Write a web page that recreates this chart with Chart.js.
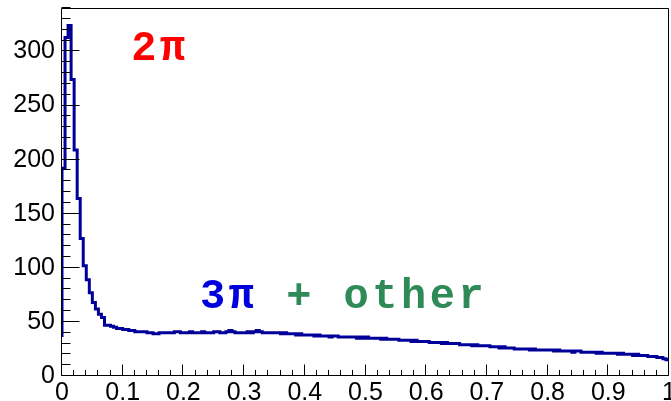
<!DOCTYPE html>
<html><head><meta charset="utf-8">
<script src="https://cdn.jsdelivr.net/npm/chart.js@4.4.0/dist/chart.umd.min.js"></script>
<style>html,body{margin:0;padding:0;background:#fff;overflow:hidden}canvas{display:block}</style>
</head><body>
<canvas id="c" width="671" height="401"></canvas>
<script>
// ---- data ----
const xMin = 0, xMax = 1, binWidth = 0.005;
const yMax = 340.2;
const startLevel = 36;
const counts = [
  192,313,324,274,209,164,127,102,89,77,68,62,57,54,47,
  47,46,45,44,44,
  43,43,42,42,41,41,41,41,40,40,
  39,39,40,40,40,40,40,41,41,40,
  40,40,41,40,40,40,41,40,40,40,
  41,41,40,40,41,42,41,40,40,40,
  40,41,40,41,42,41,40,40,40,40,
  40,40,39,40,39,39,39,38,39,38,
  38,38,38,37,38,37,37,37,36,37,
  37,36,36,36,36,36,36,35,36,35,
  36,35,35,35,35,34,35,34,34,34,
  34,33,33,33,33,32,33,32,32,32,
  32,31,31,31,31,30,31,30,30,30,
  30,29,29,29,29,28,29,28,28,28,
  28,27,27,27,26,27,26,26,26,25,
  25,25,25,25,24,25,24,24,24,24,
  24,24,23,24,23,23,23,23,22,23,
  23,22,22,22,22,22,21,22,21,21,
  21,21,21,20,21,20,20,20,19,20,
  19,19,19,18,18,18,17,17,16,15
];
const xTickLabels = ['0','0.1','0.2','0.3','0.4','0.5','0.6','0.7','0.8','0.9','1'];
const yTickLabels = ['0','50','100','150','200','250','300'];
const label2pi = '2π';
const label3pi = '3π';
const labelOther = ' + other';

// ---- build ----
const points = [{x: xMin, y: startLevel}];
counts.forEach((c, i) => points.push({x: +(i * binWidth).toFixed(4), y: c}));
points.push({x: xMax, y: counts[counts.length - 1]});

const framePlugin = {
  id: 'frame',
  afterDraw(chart) {
    const {ctx, chartArea: a, scales: {x, y}} = chart;
    ctx.save();
    ctx.strokeStyle = '#000';
    ctx.lineWidth = 1;
    ctx.beginPath();
    const L = Math.round(a.left) - 0.5, R = Math.round(a.right) - 0.5;
    const T = Math.round(a.top) + 0.5, B = Math.round(a.bottom) - 0.5;
    ctx.rect(L, T, R - L, B - T);
    for (let k = 0; k <= 34; k++) {
      const py = Math.round(y.getPixelForValue(k * 10)) - 0.5;
      const len = (k % 5 === 0) ? 18 : 9;
      ctx.moveTo(L, py); ctx.lineTo(L + len, py);
    }
    for (let k = 0; k <= 50; k++) {
      const px = Math.round(x.getPixelForValue(k * 0.02)) - 0.5;
      const len = (k % 5 === 0) ? 11 : 5.5;
      ctx.moveTo(px, B); ctx.lineTo(px, B - len);
    }
    ctx.stroke();
    ctx.restore();
  }
};

const textPlugin = {
  id: 'texts',
  afterDraw(chart) {
    const {ctx, scales: {x, y}} = chart;
    ctx.save();
    ctx.font = 'bold 42px "Liberation Mono", "Courier New", monospace';
    if ('letterSpacing' in ctx) ctx.letterSpacing = '3.5px';
    ctx.textBaseline = 'alphabetic';
    ctx.textAlign = 'left';
    ctx.fillStyle = '#ff0000';
    ctx.fillText(label2pi, x.getPixelForValue(0.114), y.getPixelForValue(292));
    const bx = x.getPixelForValue(0.2275), by = y.getPixelForValue(63);
    ctx.fillStyle = '#0000dd';
    ctx.fillText(label3pi, bx, by);
    const w = ctx.measureText(label3pi).width;
    ctx.fillStyle = '#2e8b57';
    ctx.fillText(labelOther, bx + w, by);
    ctx.restore();
  }
};

new Chart(document.getElementById('c'), {
  type: 'line',
  data: { datasets: [{
    data: points, borderColor: '#000099', borderWidth: 3, pointRadius: 0,
    stepped: true, fill: false, tension: 0
  }]},
  options: {
    responsive: false, animation: false, devicePixelRatio: 1,
    layout: { padding: { top: 8, right: 2, left: 0, bottom: 0 } },
    plugins: { legend: { display: false }, tooltip: { enabled: false } },
    scales: {
      x: {
        type: 'linear', min: xMin, max: xMax,
        grid: { display: false, drawTicks: false }, border: { display: false },
        ticks: {
          stepSize: 0.1, padding: 2, autoSkip: false, maxRotation: 0, includeBounds: false,
          color: '#000', font: { family: 'Liberation Sans', size: 25 },
          callback: (v) => { const i = Math.round(v * 10); return Math.abs(v * 10 - i) < 1e-6 ? xTickLabels[i] : ''; }
        },
        afterFit: (s) => { s.height = 25; s.paddingLeft = 0; s.paddingRight = 0; }
      },
      y: {
        min: 0, max: yMax,
        grid: { display: false, drawTicks: false }, border: { display: false },
        ticks: {
          stepSize: 50, padding: 7, includeBounds: false,
          color: '#000', font: { family: 'Liberation Sans', size: 25 },
          callback: (v) => { const i = Math.round(v / 50); return Math.abs(v / 50 - i) < 1e-6 && yTickLabels[i] ? yTickLabels[i] : ''; }
        },
        afterFit: (s) => { s.width = 62; s.paddingTop = 0; s.paddingBottom = 0; }
      }
    }
  },
  plugins: [framePlugin, textPlugin]
});
</script>
</body></html>
